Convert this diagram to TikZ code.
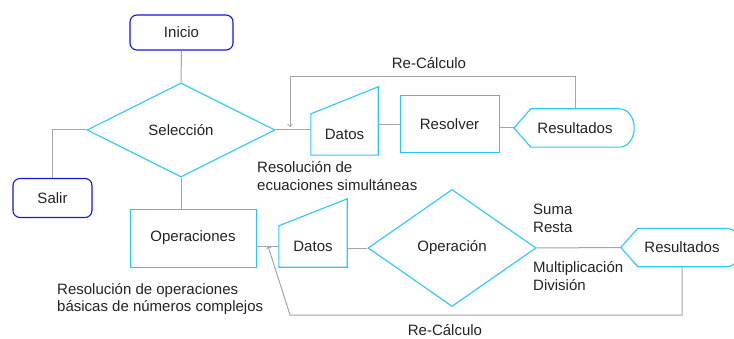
\documentclass[tikz,border=0pt]{standalone}
\usepackage{fontspec}
\setmainfont{Liberation Sans}
\usetikzlibrary{shapes.geometric}
\definecolor{celeste}{RGB}{40,200,250}
\definecolor{azul}{RGB}{20,20,235}
\definecolor{gris}{RGB}{165,165,165}
\definecolor{texto}{RGB}{35,35,35}

\begin{document}
\begin{tikzpicture}[x=1pt, y=1pt,
  every node/.style={text=texto, font=\fontsize{15}{17.5}\selectfont},
  terminal/.style={rectangle, draw=azul, line width=1.1pt, rounded corners=7pt},
  rombo/.style={diamond, draw=celeste, line width=1.1pt, inner sep=0pt},
  caja/.style={rectangle, draw=celeste, line width=1pt},
  entrada/.style={rectangle, minimum width=67, minimum height=41},
  pantalla/.style={rectangle, minimum width=88, minimum height=38},
  borde/.style={draw=celeste, line width=1.1pt},
  linea/.style={draw=gris, line width=1pt},
  nota/.style={align=left, anchor=west, inner sep=0pt}]

\useasboundingbox (0,0) rectangle (734,338);

\node [terminal, minimum width=103, minimum height=35] (ini) at (181.5,305.5) {Inicio};
\node [rombo, minimum width=188, minimum height=94] (sel) at (181,208) {Selección};
\node [terminal, minimum width=79, minimum height=39] (sal) at (52.5,140) {Salir};
\draw [linea] (ini.south) -- (sel.north);
\draw [linea] (sel.west) -| (sal.north);

\node [entrada] (dat1) at (344.5,203.5) {Datos};
\draw [borde] (dat1.south west) -- (dat1.north west) -- ([yshift=27]dat1.north east) -- (dat1.south east) -- cycle;
\node [caja, minimum width=99, minimum height=57] (res) at (449.5,213.5) {Resolver};
\node [pantalla] (rdos1) at (575,210) {Resultados};
\draw [borde] ([xshift=-17]rdos1.west) coordinate (r1p) -- (rdos1.north west) -- (rdos1.north east)
  to[out=0,in=90] ([xshift=15]rdos1.east) to[out=-90,in=0] (rdos1.south east) -- (rdos1.south west) -- cycle;
\draw [linea] (sel.east) -- (sel.east -| dat1.west);
\draw [linea] (res.west -| dat1.east) -- (res.west);
\draw [linea] (res.east |- r1p) -- (r1p);

\coordinate (v1) at (290,261);
\coordinate (v1b) at (290,211);
\draw [linea, ->] (rdos1.north) |- (v1) -- (v1b);
\node (rc1) at (429,275) {Re-Cálculo};
\node [nota] (t1) at (257,162) {Resolución de\\ecuaciones simultáneas};

\node [caja, minimum width=126, minimum height=58] (ope) at (193,100) {Operaciones};
\draw [linea] (sel.south) -- (sel.south |- ope.north);
\node [entrada, minimum width=68] (dat2) at (313,91.5) {Datos};
\draw [borde] (dat2.south west) -- (dat2.north west) -- ([yshift=27]dat2.north east) -- (dat2.south east) -- cycle;
\node [rombo, minimum width=168, minimum height=117] (opn) at (452,90) {Operación};
\node [pantalla] (rdos2) at (682,90.5) {Resultados};
\draw [borde] ([xshift=-17]rdos2.west) coordinate (r2p) -- (rdos2.north west) -- (rdos2.north east)
  to[out=0,in=90] ([xshift=15]rdos2.east) to[out=-90,in=0] (rdos2.south east) -- (rdos2.south west) -- cycle;
\draw [linea] (ope.east |- dat2.west) -- (dat2.west);
\draw [linea] (opn.west -| dat2.east) -- (opn.west);
\draw [linea] (opn.east) -- (r2p);

\coordinate (v2) at (290,23);
\coordinate (v2b) at (268,92);
\draw [linea, ->] (rdos2.south) |- (v2) -- (v2b);
\node (rc2) at (445,8) {Re-Cálculo};

\node [nota] (t2) at (533,119.5) {Suma\\Resta};
\node [nota] (t3) at (533,62) {Multiplicación\\División};
\node [nota] (t4) at (57,39) {Resolución de operaciones\\básicas de números complejos};
\end{tikzpicture}
\end{document}
